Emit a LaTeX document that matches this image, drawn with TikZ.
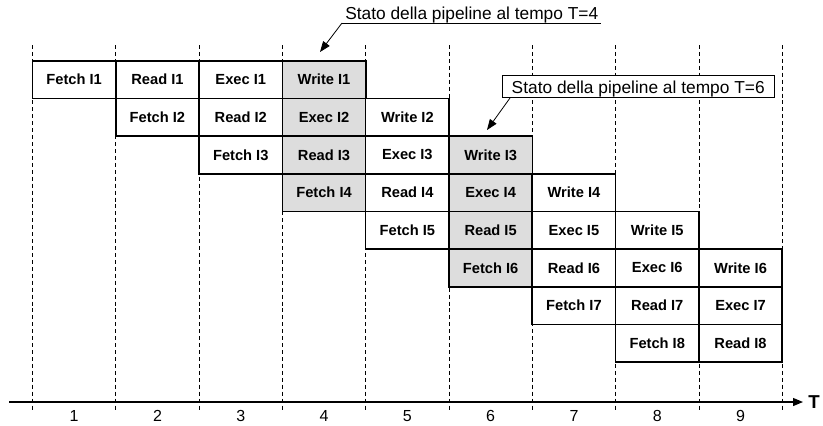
\documentclass[tikz,border=0pt]{standalone}
\usepackage{fontspec}
\setmainfont{Liberation Sans}
\definecolor{StageGray}{HTML}{DDDDDD}
\usetikzlibrary{arrows.meta}

\begin{document}
\begin{tikzpicture}[x=0.75pt, y=-0.75pt,
  cell/.style={rectangle, draw=black, fill=white, line width=1.2pt,
               minimum width=62.5pt, minimum height=28.25pt, inner sep=0pt,
               font=\fontsize{11}{13}\selectfont\bfseries},
  busy/.style={cell, fill=StageGray},
  slot/.style={draw=black, line width=0.6pt, dash pattern=on 3pt off 2.2pt},
  axisline/.style={draw=black, line width=0.9pt, -{Triangle[length=7.5pt,width=6pt]}},
  tnum/.style={font=\fontsize{12}{14}\selectfont},
  note/.style={font=\fontsize{13}{15}\selectfont, text depth=0pt, anchor=south west},
  lead/.style={draw=black, line width=0.6pt, -{Triangle[length=8pt,width=6pt]}},
]
\useasboundingbox (0,0) rectangle (823,425);

\foreach \k in {0,...,9}
  \draw[slot] (32.5+\k*83.3,45) -- (32.5+\k*83.3,410);

\foreach \i in {1,...,8} {
  \foreach \stg/\st in {0/Fetch,1/Read,2/Exec,3/Write} {
    \pgfmathtruncatemacro{\col}{\i+\stg}
    \ifnum\col<10
      \ifnum\col=4 \def\look{busy}\else\ifnum\col=6 \def\look{busy}\else\def\look{cell}\fi\fi
      \node[\look] (c\i-\stg) at (\col*83.3-9.15, \i*37.67+41.865) {\st\ I\i};
    \fi
  }
}

\coordinate (tstart) at (9,402);
\node[anchor=west, inner xsep=3.75pt, inner ysep=0pt, font=\fontsize{14}{16}\selectfont\bfseries] (tlab) at (803,402) {T};
\draw[axisline] (tstart) -- (tlab);
\foreach \n in {1,...,9}
  \node[tnum] (t\n) at (\n*83.3-9.15,416) {\n};

\node[note, inner xsep=2.25pt, inner ysep=2.25pt] (at4) at (342,23) {Stato della pipeline al tempo T=4};
\draw[line width=0.6pt] (at4.south west) -- (at4.south east);
\coordinate (tip4) at (320,52);
\draw[lead] (at4.south west) -- (tip4);

\node[note, draw=black, fill=white, line width=0.6pt, inner xsep=7pt, inner ysep=2.8pt, text height=11pt] (at6) at (502,98) {Stato della pipeline al tempo T=6};
\coordinate (tip6) at (487,130);
\draw[lead] ([xshift=6pt]at6.south west) -- (tip6);
\end{tikzpicture}
\end{document}
